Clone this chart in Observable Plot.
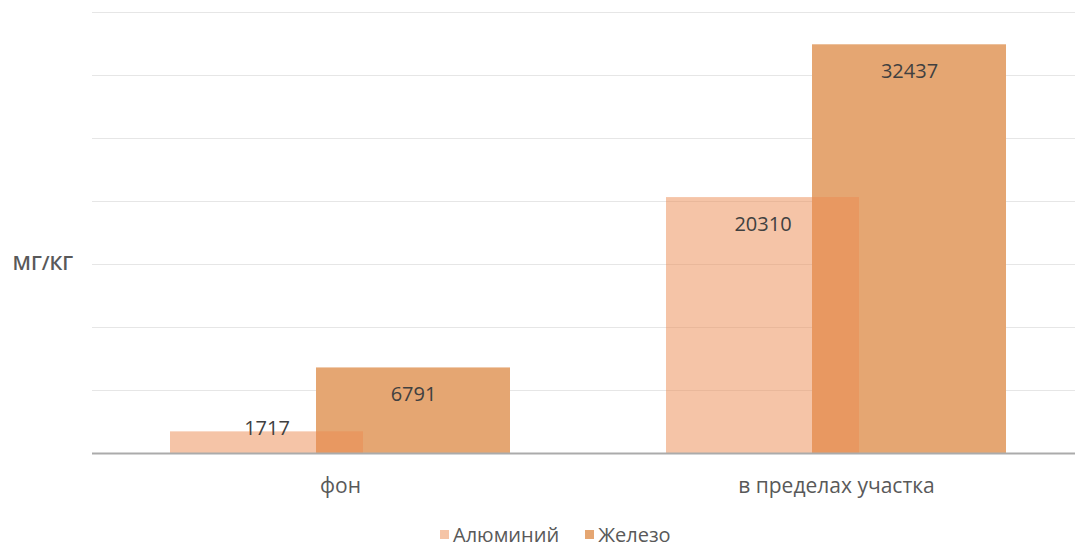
<!DOCTYPE html>
<html>
<head>
<meta charset="utf-8">
<script src="https://cdn.jsdelivr.net/npm/d3@7"></script>
<script src="https://cdn.jsdelivr.net/npm/@observablehq/plot@0.6"></script>
<style>
  html, body { margin: 0; padding: 0; background: #fff; }
  body { width: 1075px; height: 546px; overflow: hidden; font-family: "Open Sans", "Noto Sans", sans-serif; }
  #chart { position: relative; }
  .legend { position: absolute; top: 521px; left: 440px; display: flex; align-items: center; font-size: 20px; line-height: 27px; color: #595959; font-family: "Open Sans", sans-serif; }
  .legend span.sw { display: inline-block; width: 9px; height: 9px; margin-right: 4px; }
  .legend .item { display: flex; align-items: center; margin-right: 26px; }
</style>
</head>
<body>
<div id="chart"></div>
<script>
const categories = ["фон", "в пределах участка"];
const aluminium = [1717, 20310];
const iron = [6791, 32437];
const seriesNames = ["Алюминий", "Железо"];
const seriesColors = ["#ec8a50", "#e5a672"];
const yTicks = [5000, 10000, 15000, 20000, 25000, 30000, 35000];
const yLabel = "МГ/КГ";

const alData = categories.map((c, i) => ({category: c, value: aluminium[i]}));
const feData = categories.map((c, i) => ({category: c, value: iron[i]}));

const labelStyle = {fontSize: 20, fill: "#404040", fontFamily: "Open Sans, sans-serif"};
function labels(data, dx) {
  return [
    Plot.text(data.filter(d => d.value > 5000), {x: "category", y: "value", text: d => String(d.value), dx, dy: 27, ...labelStyle}),
    Plot.text(data.filter(d => d.value <= 5000), {x: "category", y: "value", text: d => String(d.value), dx, dy: -3, ...labelStyle})
  ];
}

const plot = Plot.plot({
  width: 1075,
  height: 505,
  marginLeft: 92,
  marginRight: -9,
  marginTop: 12,
  marginBottom: 52,
  style: {fontFamily: "Open Sans, sans-serif", background: "#fff", overflow: "visible"},
  x: {domain: categories, padding: 0, label: null},
  y: {domain: [0, 35000], label: null, axis: null},
  marks: [
    Plot.ruleY(yTicks, {stroke: "#e6e6e6", strokeWidth: 1}),
    Plot.barY(feData, {x: "category", y: "value", fill: seriesColors[1], insetLeft: 224, insetRight: 78}),
    Plot.barY(alData, {x: "category", y: "value", fill: seriesColors[0], fillOpacity: 0.5, insetLeft: 78, insetRight: 225}),
    Plot.ruleY([0], {stroke: "#ababab", strokeWidth: 2}),
    ...labels(alData, -73.5),
    ...labels(feData, 73),
    Plot.axisX({tickSize: 0, tickPadding: 25, fontSize: 21, color: "#595959", label: null}),
    Plot.text([yLabel], {frameAnchor: "left", dx: -80, dy: 31, fontSize: 20, fontWeight: 600, fill: "#595959"})
  ]
});
document.getElementById("chart").appendChild(plot);

const legend = document.createElement("div");
legend.className = "legend";
seriesNames.forEach((n, i) => {
  const item = document.createElement("div");
  item.className = "item";
  const sw = document.createElement("span");
  sw.className = "sw";
  sw.style.background = i === 0 ? "#f5c4a6" : seriesColors[1];
  item.appendChild(sw);
  const t = document.createElement("span");
  t.textContent = n;
  item.appendChild(t);
  legend.appendChild(item);
});
document.getElementById("chart").appendChild(legend);
</script>
</body>
</html>
